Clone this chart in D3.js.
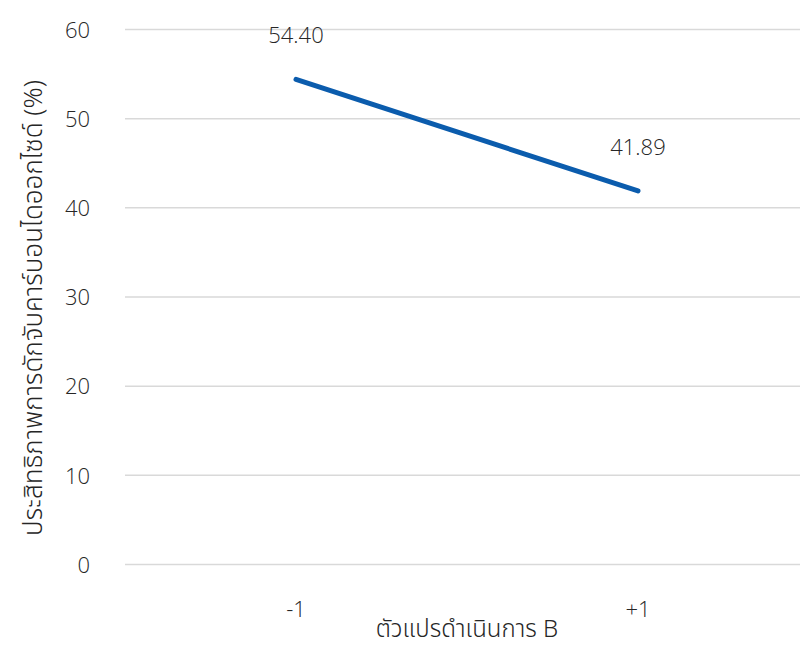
<!DOCTYPE html>
<html>
<head>
<meta charset="utf-8">
<script src="https://cdn.jsdelivr.net/npm/d3@7"></script>
<style>
  html, body { margin: 0; padding: 0; background: #ffffff; }
  svg text { font-family: "Noto Sans Thai", "Noto Sans", "DejaVu Sans", sans-serif; fill: #262626; }
  svg text.num { font-family: "Open Sans", "Noto Sans", sans-serif; font-weight: 300; }
</style>
</head>
<body>
<svg id="chart" width="800" height="648"></svg>
<script>
// Operating variable B levels and the CO2 capture efficiency at each level
const categories = ["-1", "+1"];
const efficiency = [54.40, 41.89];
const yTicks = [0, 10, 20, 30, 40, 50, 60];
const xTitle = "ตัวแปรดำเนินการ B";
const yTitle = "ประสิทธิภาพการดักจับคาร์บอนไดออกไซด์ (%)";

const svg = d3.select("#chart");
const margin = { left: 125, right: -9, top: 29.5, bottom: 83.5 };
const W = 800, H = 648;

const x = d3.scaleBand()
  .domain(categories)
  .range([margin.left, W - margin.right]);

const y = d3.scaleLinear()
  .domain([0, 60])
  .range([H - margin.bottom, margin.top]);

// Horizontal gridlines
svg.append("g")
  .selectAll("line")
  .data(yTicks)
  .join("line")
  .attr("x1", margin.left)
  .attr("x2", W)
  .attr("y1", d => y(d))
  .attr("y2", d => y(d))
  .attr("stroke", "#d9d9d9")
  .attr("stroke-width", 1.5);

// Y axis labels
const yAxis = d3.axisLeft(y).tickValues(yTicks).tickSize(0).tickPadding(0);
svg.append("g")
  .attr("transform", `translate(90,0)`)
  .call(yAxis)
  .call(g => g.select(".domain").remove())
  .call(g => g.selectAll("text")
    .attr("class", "num")
    .attr("font-size", 22)
    .attr("fill", "#262626")
    .attr("dy", "0.35em"));

// X axis labels
const xAxis = d3.axisBottom(x).tickSize(0).tickPadding(0);
svg.append("g")
  .attr("transform", `translate(0,${y(0) + 52})`)
  .call(xAxis)
  .call(g => g.select(".domain").remove())
  .call(g => g.selectAll("text")
    .attr("class", "num")
    .attr("font-size", 22)
    .attr("fill", "#262626")
    .attr("dy", "0"));

// Data line
const pts = categories.map((c, i) => ({ c, v: efficiency[i] }));
const line = d3.line()
  .x(d => x(d.c) + x.bandwidth() / 2)
  .y(d => y(d.v));

svg.append("path")
  .datum(pts)
  .attr("d", line)
  .attr("fill", "none")
  .attr("stroke", "#0b5cad")
  .attr("stroke-width", 5)
  .attr("stroke-linecap", "round");

// Value labels above each point
svg.append("g")
  .selectAll("text")
  .data(pts)
  .join("text")
  .attr("class", "num")
  .attr("x", d => x(d.c) + x.bandwidth() / 2)
  .attr("y", d => y(d.v) - 36)
  .attr("text-anchor", "middle")
  .attr("font-size", 22)
  .text(d => d.v.toFixed(2));

// Axis titles
svg.append("text")
  .attr("x", (margin.left + W - margin.right) / 2)
  .attr("y", 637)
  .attr("text-anchor", "middle")
  .attr("font-size", 24)
  .attr("font-weight", 300)
  .text(xTitle);

svg.append("text")
  .attr("transform", `translate(42,308) rotate(-90)`)
  .attr("text-anchor", "middle")
  .attr("font-size", 26)
  .attr("font-weight", 300)
  .text(yTitle);
</script>
</body>
</html>
